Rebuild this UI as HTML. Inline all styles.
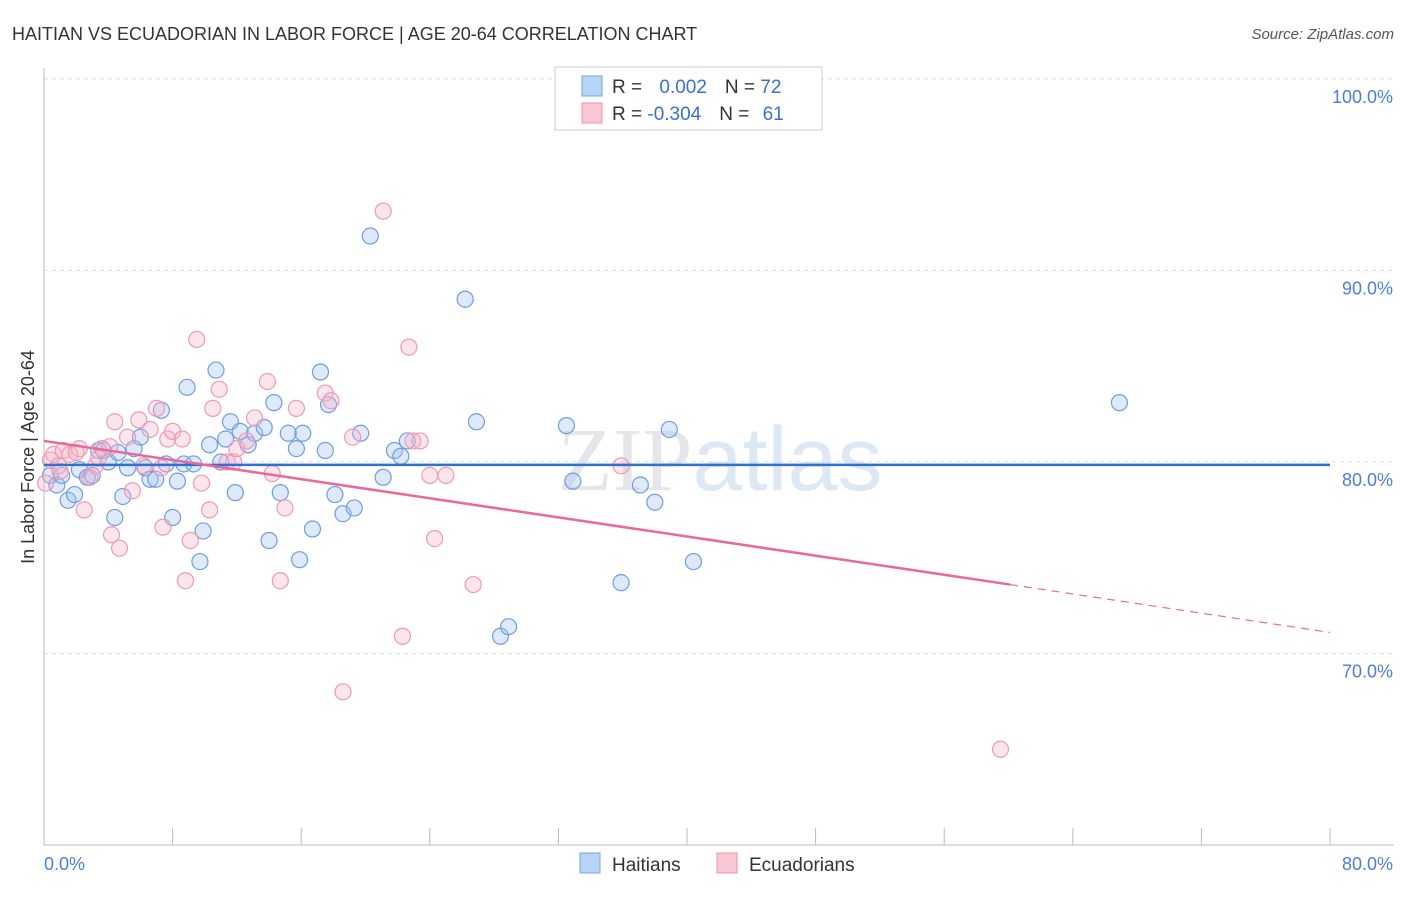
<!DOCTYPE html>
<html><head><meta charset="utf-8"><style>
body{margin:0;background:#fff;font-family:"Liberation Sans",sans-serif}
</style></head><body>
<svg width="1406" height="892" xmlns="http://www.w3.org/2000/svg">
<text x="12" y="40" font-size="18" fill="#333">HAITIAN VS ECUADORIAN IN LABOR FORCE | AGE 20-64 CORRELATION CHART</text>
<text x="1394" y="39" font-size="15" fill="#555" font-style="italic" text-anchor="end">Source: ZipAtlas.com</text>
<text x="720" y="490" font-size="90" fill="#e6e6ea" text-anchor="middle" font-family="Liberation Serif">ZIP<tspan fill="#dde8f5" font-family="Liberation Sans">atlas</tspan></text>
<g id="grid"></g>
<g id="axes"></g>
<g id="marks"></g>
<text transform="translate(34,457) rotate(-90)" font-size="18" fill="#333" text-anchor="middle">In Labor Force | Age 20-64</text>
<g>
<rect x="555" y="67" width="267" height="63" fill="#fff" stroke="#ccc"/>
<rect x="582" y="76" width="20" height="20" fill="#b8d4f5" stroke="#7aa6e0"/>
<rect x="582" y="103" width="20" height="20" fill="#f9c6d4" stroke="#eb94ad"/>
<text x="612" y="93" font-size="19" fill="#333">R = <tspan fill="#3a6fd0" dx="12">0.002</tspan><tspan dx="18">N = </tspan><tspan fill="#3a6fd0">72</tspan></text>
<text x="612" y="120" font-size="19" fill="#333">R = <tspan fill="#3a6fd0">-0.304</tspan><tspan dx="18">N = </tspan><tspan fill="#3a6fd0" dx="8">61</tspan></text>
</g>
<g>
<rect x="580" y="853" width="20" height="20" fill="#b8d4f5" stroke="#7aa6e0"/>
<text x="612" y="871" font-size="19" fill="#333">Haitians</text>
<rect x="717" y="853" width="20" height="20" fill="#f9c6d4" stroke="#eb94ad"/>
<text x="749" y="871" font-size="19" fill="#333">Ecuadorians</text>
</g>
</svg>
<script>
const yTicks=[100,90,80,70];
const yTickLabels=["100.0%","90.0%","80.0%","70.0%"];
const xTicks=[0,8,16,24,32,40,48,56,64,72,80];
const haitianX=[0.4,0.8,1.1,1.5,1.9,2.2,2.7,3.0,3.4,3.7,4.0,4.4,4.6,4.9,5.2,5.6,6.0,6.3,6.6,6.95,7.3,7.6,8.0,8.3,8.7,8.9,9.3,9.7,9.9,10.3,10.7,11.0,11.3,11.6,11.9,12.2,12.7,13.1,13.7,14.0,14.3,14.7,15.2,15.7,15.9,16.1,16.7,17.2,17.5,17.7,18.1,18.6,19.3,19.7,20.3,21.1,21.8,22.2,22.6,26.2,26.9,28.4,28.9,32.5,32.9,35.9,37.1,38.0,38.9,40.4,66.9];
const haitianY=[79.3,78.8,79.3,78.0,78.3,79.6,79.2,79.3,80.6,80.6,80.0,77.1,80.5,78.2,79.7,80.7,81.3,79.7,79.1,79.1,82.7,79.9,77.1,79.0,79.9,83.9,79.9,74.8,76.4,80.9,84.8,80.0,81.2,82.1,78.4,81.6,80.9,81.5,81.8,75.9,83.1,78.4,81.5,80.7,74.9,81.5,76.5,84.7,80.6,83.0,78.3,77.3,77.6,81.5,91.8,79.2,80.6,80.3,81.1,88.5,82.1,70.9,71.4,81.9,79.0,73.7,78.8,77.9,81.7,74.8,83.1];
const ecuadorX=[0.4,0.6,0.9,1.2,1.6,2.2,2.5,2.85,3.2,3.6,4.2,4.4,4.7,5.2,5.5,5.9,6.2,6.6,7.0,7.4,7.3,7.7,8.0,8.6,8.8,9.1,9.5,9.8,10.3,10.5,10.9,11.4,11.8,12.0,12.6,13.1,13.9,14.2,14.7,14.99,15.7,17.5,17.85,19.2,18.6,21.1,22.3,22.7,22.95,23.4,24.0,24.3,25.0,26.7,35.9,59.5,0.1,1.0,2.0,4.1,3.4];
const ecuadorY=[80.1,80.4,79.8,80.6,80.4,80.7,77.5,79.2,79.8,80.7,76.2,82.1,75.5,81.3,78.5,82.2,79.8,81.7,82.8,76.6,79.7,81.2,81.6,81.2,73.8,75.9,86.4,78.9,77.5,82.8,83.8,80.0,80.0,80.7,81.1,82.3,84.2,79.4,73.8,77.6,82.8,83.6,83.2,81.3,68.0,93.1,70.9,86.0,81.1,81.1,79.3,76.0,79.3,73.6,79.8,65.0,78.9,79.5,80.5,80.8,80.2];
const ns="http://www.w3.org/2000/svg";
const X=v=>44+v*16.075, Y=v=>79+(100-v)*19.15;
function mk(tag,attrs,parent){const e=document.createElementNS(ns,tag);for(const k in attrs)e.setAttribute(k,attrs[k]);document.getElementById(parent).appendChild(e);return e;}
yTicks.forEach((t,i)=>{
 const l=mk('line',{x1:44,x2:1394,y1:Y(t),y2:Y(t),stroke:'#ddd','stroke-dasharray':'4,4'},'grid');
 
 
 const tx=mk('text',{x:1393,y:Y(t)+24,'font-size':18,fill:'#4a7fd4','text-anchor':'end'},'axes');
 tx.textContent=yTickLabels[i];
 
 
});
const ax=mk('line',{x1:44,x2:44,y1:68,y2:845,stroke:'#bbb'},'axes');


const bx=mk('line',{x1:44,x2:1394,y1:845,y2:845,stroke:'#bbb'},'axes');


xTicks.forEach(t=>{const l=mk('line',{x1:X(t),x2:X(t),y1:828,y2:845,stroke:'#bbb'},'axes');
 
 });
const x0=mk('text',{x:44,y:870,'font-size':18,fill:'#4a7fd4'},'axes');x0.textContent='0.0%';


const x1=mk('text',{x:1393,y:870,'font-size':18,fill:'#4a7fd4','text-anchor':'end'},'axes');x1.textContent='80.0%';


haitianX.forEach((v,i)=>{const c=mk('circle',{cx:X(v),cy:Y(haitianY[i]),r:8,fill:'rgba(160,196,240,0.35)',stroke:'#6d9de0','stroke-width':1.2},'marks');
 
 });
ecuadorX.forEach((v,i)=>{const c=mk('circle',{cx:X(v),cy:Y(ecuadorY[i]),r:8,fill:'rgba(246,180,200,0.35)',stroke:'#ec9ab3','stroke-width':1.2},'marks');
 
 });
const bl=mk('line',{x1:X(0),x2:X(80),y1:Y(79.85),y2:Y(79.85),stroke:'#2f6fd6','stroke-width':2.5},'marks');


const pl=mk('line',{x1:X(0),x2:X(60.1),y1:Y(81.1),y2:Y(73.6),stroke:'#e8699a','stroke-width':2.5},'marks');


const pd=mk('line',{x1:X(60.1),x2:X(80),y1:Y(73.6),y2:Y(71.1),stroke:'#e8699a','stroke-width':1.2,'stroke-dasharray':'8,6'},'marks');


</script>
</body></html>
